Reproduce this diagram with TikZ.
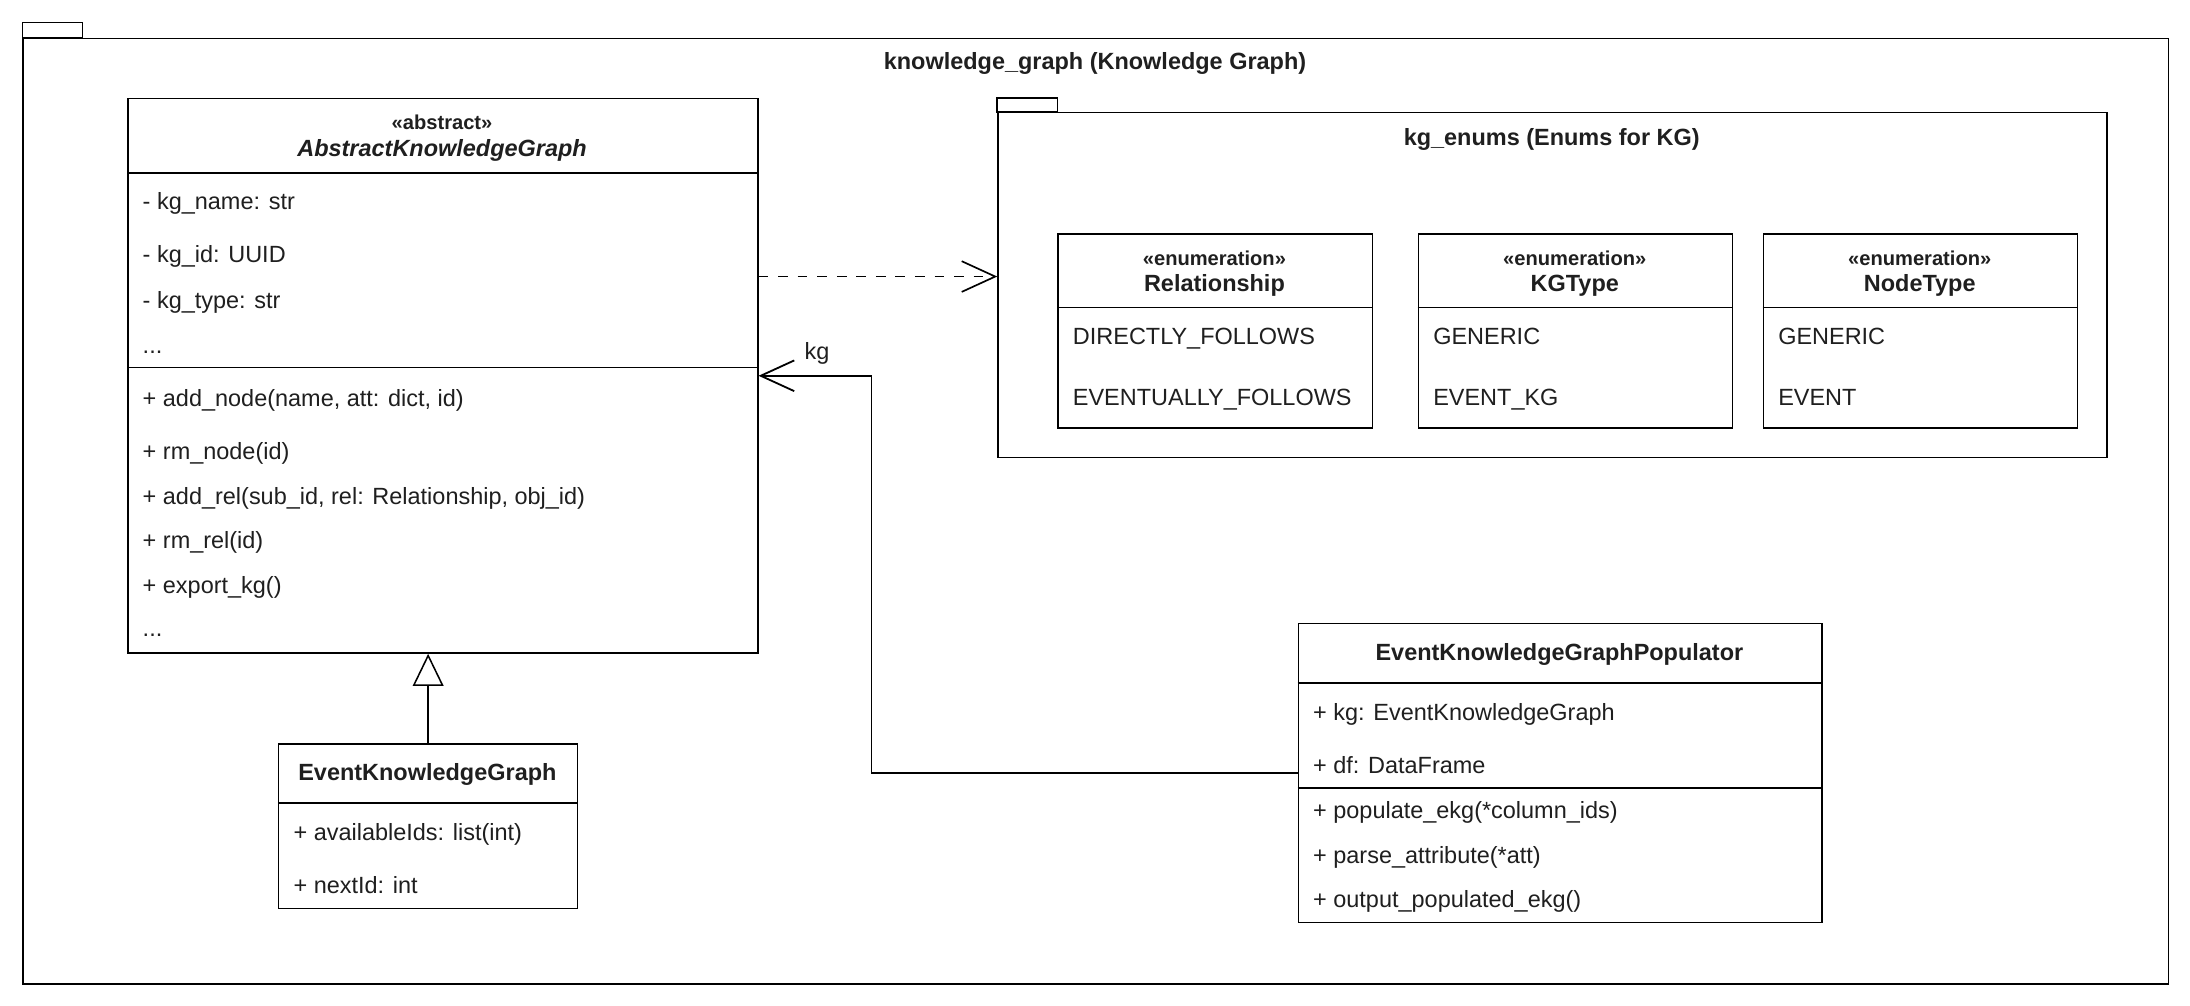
\documentclass[tikz,border=0pt]{standalone}
\usepackage{fontspec}
\setmainfont{Liberation Sans}
\usetikzlibrary{arrows.meta}

\tikzset{
  box/.style={draw, line width=1.1pt, anchor=north west, inner sep=0pt, fill=white},
  member/.style={anchor=base west, inner sep=0pt, text=black!88, font=\fontsize{16.8}{20}\selectfont},
  cname/.style={anchor=base, inner sep=0pt, text=black!88, font=\bfseries\fontsize{16.8}{20}\selectfont},
  stereo/.style={anchor=base, inner sep=0pt, text=black!88, font=\bfseries\fontsize{14.4}{16}\selectfont},
  sepline/.style={line width=1.1pt},
  dep/.style={line width=1.2pt, dash pattern=on 7pt off 7pt, -{Straight Barb[length=24pt,width=22pt]}},
  assoc/.style={line width=1.3pt, -{Straight Barb[length=24pt,width=22pt]}},
  gen/.style={line width=1.1pt, -{Triangle[length=23pt,width=22pt,fill=white]}}
}

\begin{document}
\begin{tikzpicture}[x=1pt,y=-1pt]
\useasboundingbox (0,0) rectangle (1568,720);
%\draw [help lines,black!20!white] (0,0) grid[step=50] (1568,720);

% outer package
\node[box, minimum width=1536pt, minimum height=677pt] (kg) at (16,27) {};
\draw[sepline] (kg.north west) rectangle ++(43,-11);
\node[cname] (kgtitle) at (784,50) {knowledge\_graph (Knowledge Graph)};

% abstract class
\node[box, minimum width=451pt, minimum height=397pt] (akg) at (91,70) {};
\draw[sepline] (91,124) -- (542,124);
\draw[sepline] (91,263) -- (542,263);
\node[stereo] (akgst) at (316.5,93) {«abstract»};
\node[cname, font=\bfseries\itshape\fontsize{16.8}{20}\selectfont] (akgname) at (316.5,112) {AbstractKnowledgeGraph};
\node[member] (at1) at (102,150) {- kg\_name: str};
\node[member] (at2) at (102,188) {- kg\_id: UUID};
\node[member] (at3) at (102,221) {- kg\_type: str};
\node[member] (at4) at (102,253) {...};
\node[member] (m1) at (102,291) {+ add\_node(name, att: dict, id)};
\node[member] (m2) at (102,329) {+ rm\_node(id)};
\node[member] (m3) at (102,361) {+ add\_rel(sub\_id, rel: Relationship, obj\_id)};
\node[member] (m4) at (102,393) {+ rm\_rel(id)};
\node[member] (m5) at (102,425) {+ export\_kg()};
\node[member] (m6) at (102,456) {...};

% subclass
\node[box, minimum width=214pt, minimum height=118pt] (ekg) at (199,532) {};
\draw[sepline] (199,575) -- (413,575);
\node[cname] (ekgname) at (306,559) {EventKnowledgeGraph};
\node[member] (e1) at (210,602) {+ availableIds: list(int)};
\node[member] (e2) at (210,640) {+ nextId: int};

% enum package
\node[box, minimum width=794pt, minimum height=247pt] (enums) at (714,80) {};
\draw[sepline] (enums.north west) rectangle ++(43,-10);
\node[cname] (enumstitle) at (1111,104) {kg\_enums (Enums for KG)};

\node[box, minimum width=225pt, minimum height=139pt] (rel) at (757,167) {};
\draw[sepline] (757,220) -- (982,220);
\node[stereo] (relst) at (869.5,190) {«enumeration»};
\node[cname] (relname) at (869.5,209) {Relationship};
\node[member] (r1) at (768,247) {DIRECTLY\_FOLLOWS};
\node[member] (r2) at (768,290) {EVENTUALLY\_FOLLOWS};

\node[box, minimum width=225pt, minimum height=139pt] (kgt) at (1015,167) {};
\draw[sepline] (1015,220) -- (1240,220);
\node[stereo] (kgtst) at (1127.5,190) {«enumeration»};
\node[cname] (kgtname) at (1127.5,209) {KGType};
\node[member] (k1) at (1026,247) {GENERIC};
\node[member] (k2) at (1026,290) {EVENT\_KG};

\node[box, minimum width=225pt, minimum height=139pt] (ntp) at (1262,167) {};
\draw[sepline] (1262,220) -- (1487,220);
\node[stereo] (ntpst) at (1374.5,190) {«enumeration»};
\node[cname] (ntpname) at (1374.5,209) {NodeType};
\node[member] (n1) at (1273,247) {GENERIC};
\node[member] (n2) at (1273,290) {EVENT};

% populator
\node[box, minimum width=375pt, minimum height=214pt] (pop) at (929,446) {};
\draw[sepline] (929,489) -- (1304,489);
\draw[sepline] (929,564) -- (1304,564);
\node[cname] (popname) at (1116.5,473) {EventKnowledgeGraphPopulator};
\node[member] (p1) at (940,516) {+ kg: EventKnowledgeGraph};
\node[member] (p2) at (940,554) {+ df: DataFrame};
\node[member] (p3) at (940,586) {+ populate\_ekg(*column\_ids)};
\node[member] (p4) at (940,618) {+ parse\_attribute(*att)};
\node[member] (p5) at (940,650) {+ output\_populated\_ekg()};

% connectors
\coordinate (depy) at (600,198);
\coordinate (bend) at (624,400);
\draw[dep] (akg.east |- depy) -- (enums.west |- depy);
\draw[assoc] (pop.west) -| (bend |- akg.east) -- (akg.east);
\node[member, anchor=center] (kglbl) at (585,253) {kg};
\draw[gen] (ekg.north) -- (ekg.north |- akg.south);

\end{tikzpicture}
\end{document}
